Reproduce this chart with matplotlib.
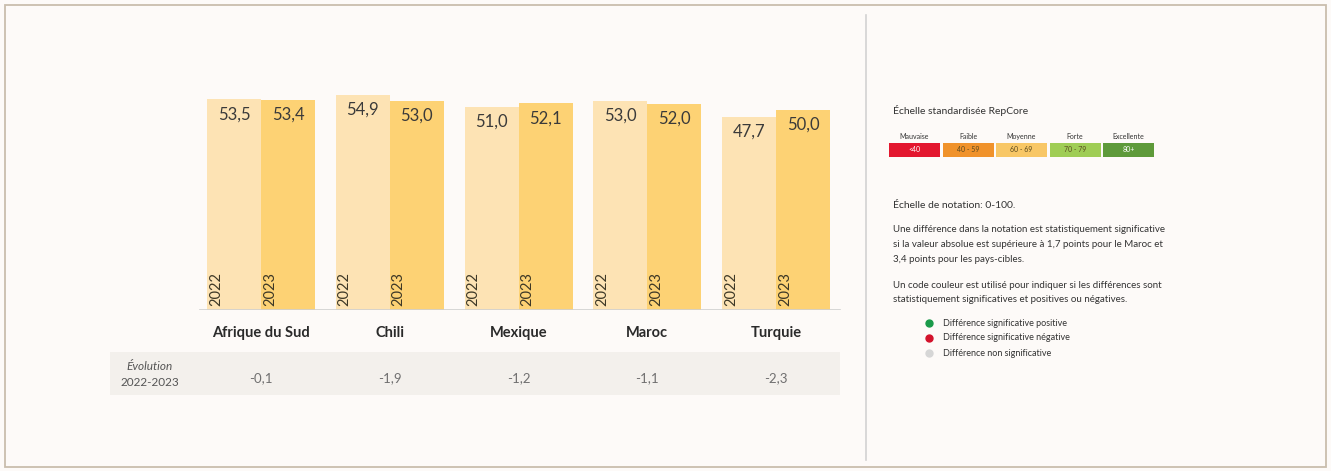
import matplotlib.pyplot as plt
from matplotlib.patches import Rectangle
from matplotlib.lines import Line2D

plt.rcParams['font.family'] = ['Lato', 'DejaVu Sans']

# Données
pays = ['Afrique du Sud', 'Chili', 'Mexique', 'Maroc', 'Turquie']
score_2022 = [53.5, 54.9, 51.0, 53.0, 47.7]
score_2023 = [53.4, 53.0, 52.1, 52.0, 50.0]
evolution = ['-0,1', '-1,9', '-1,2', '-1,1', '-2,3']
annees = ['2022', '2023']

echelle_noms = ['Mauvaise', 'Faible', 'Moyenne', 'Forte', 'Excellente']
echelle_plages = ['<40', '40 - 59', '60 - 69', '70 - 79', '80+']
echelle_couleurs = ['#e3172f', '#f0922b', '#f8c766', '#9fcd55', '#5e9a3a']

legende_txt = ['Différence significative positive',
               'Différence significative négative',
               'Différence non significative']
legende_couleurs = ['#1a9a4a', '#d3122b', '#d6d6d6']

W, H = 1331, 471
fig = plt.figure(figsize=(W / 100, H / 100), dpi=100)
fig.patch.set_facecolor('#fdfaf8')


def px(x, y):
    return x / W, 1 - y / H


# Cadre et séparateur
fig.patches.append(Rectangle(px(5, 467), 1321 / W, 462 / H, transform=fig.transFigure,
                             fill=False, edgecolor='#c9bead', linewidth=1.3))
fig.lines.append(Line2D([866 / W, 866 / W], [1 - 15 / H, 1 - 460 / H],
                        transform=fig.transFigure, color='#d2d2d2', linewidth=1.2))

# Graphique en barres (l'axe ne commence pas à 0 dans l'original)
left, right, top, bottom = 180, 850, 90, 310
ax = fig.add_axes([left / W, 1 - bottom / H, (right - left) / W, (bottom - top) / H])
ax.set_facecolor('none')
step = 128.75
ax.set_xlim((left - 261) / step, (right - 261) / step)
ymin = -16
ppu = (bottom - 95) / (54.9 - ymin)
ymax = ymin + (bottom - top) / ppu
ax.set_ylim(ymin, ymax)
w = 54 / step
x = list(range(len(pays)))
ax.bar([i - w / 2 for i in x], [v - ymin for v in score_2022], bottom=ymin, width=w,
       color='#fde3b4', zorder=2)
ax.bar([i + w / 2 for i in x], [v - ymin for v in score_2023], bottom=ymin, width=w,
       color='#fdd274', zorder=2)
off = 15 / ppu
for i in x:
    ax.text(i - w / 2, score_2022[i] - off, f'{score_2022[i]:.1f}'.replace('.', ','),
            ha='center', va='center', fontsize=12, color='#3a3a3a')
    ax.text(i + w / 2, score_2023[i] - off, f'{score_2023[i]:.1f}'.replace('.', ','),
            ha='center', va='center', fontsize=12, color='#3a3a3a')
    for k, xx in enumerate([i - w, i]):
        ax.text(xx + 0.07, ymin + 4 / ppu, annees[k], rotation=90, ha='center',
                va='bottom', fontsize=10.5, color='#3d3826')
for s in ax.spines.values():
    s.set_visible(False)
ax.set_xticks([])
ax.set_yticks([])
ax.axhline(ymin, xmin=(200 - left) / (right - left), xmax=(840 - left) / (right - left),
           color='#d0d0d0', linewidth=1.2, zorder=3)

# Noms des pays et évolution
fig.patches.append(Rectangle(px(110, 395), 730 / W, 43 / H, transform=fig.transFigure,
                             facecolor='#f3f0ec', edgecolor='none'))
fig.text(*px(150, 367), 'Évolution', ha='center', va='center', fontsize=8.5,
         style='italic', color='#555555')
fig.text(*px(150, 382), '2022-2023', ha='center', va='center', fontsize=8.5,
         color='#555555')
for i in x:
    cx = 261 + step * i
    fig.text(*px(cx, 333), pays[i], ha='center', va='center', fontsize=10.5,
             fontweight='bold', color='#2a2a2a')
    fig.text(*px(cx, 378), evolution[i], ha='center', va='center', fontsize=9.5,
             color='#707070')

# Panneau de droite
fig.text(*px(893, 110), 'Échelle standardisée RepCore', ha='left', va='center',
         fontsize=7.5, color='#333333')
for k in range(len(echelle_noms)):
    x0 = 889 + 53.5 * k
    fig.patches.append(Rectangle(px(x0, 157), 51 / W, 14 / H, transform=fig.transFigure,
                                 facecolor=echelle_couleurs[k], edgecolor='none'))
    fig.text(*px(x0 + 25.5, 137), echelle_noms[k], ha='center', va='center',
             fontsize=5, color='#333333')
    fig.text(*px(x0 + 25.5, 150), echelle_plages[k], ha='center', va='center',
             fontsize=5, color='white' if k in (0, 4) else '#5a4a20')

fig.text(*px(893, 205), 'Échelle de notation: 0-100.', ha='left', va='center',
         fontsize=7.5, color='#333333')
para1 = ['Une différence dans la notation est statistiquement significative',
         'si la valeur absolue est supérieure à 1,7 points pour le Maroc et',
         '3,4 points pour les pays-cibles.']
para2 = ['Un code couleur est utilisé pour indiquer si les différences sont',
         'statistiquement significatives et positives ou négatives.']
for j, t in enumerate(para1):
    fig.text(*px(893, 230 + 14.5 * j), t, ha='left', va='center', fontsize=7,
             color='#333333')
for j, t in enumerate(para2):
    fig.text(*px(893, 285 + 14.5 * j), t, ha='left', va='center', fontsize=7,
             color='#333333')
for j, t in enumerate(legende_txt):
    yy = 323 + 15 * j
    fig.lines.append(Line2D([929 / W], [1 - yy / H], transform=fig.transFigure,
                            marker='o', markersize=5, color=legende_couleurs[j],
                            linestyle='none'))
    fig.text(*px(943, yy), t, ha='left', va='center', fontsize=6.5, color='#333333')

fig.savefig('out.png', dpi=100, facecolor=fig.get_facecolor())
